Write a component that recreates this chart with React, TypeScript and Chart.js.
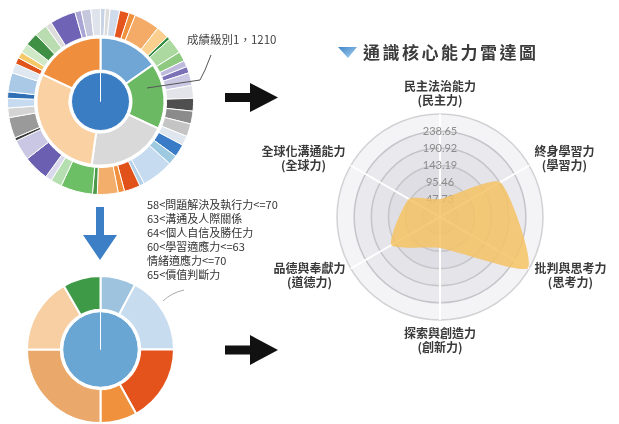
import React, { useEffect, useRef } from 'react';
import { Chart, registerables } from 'chart.js';

Chart.register(...registerables);

const FONT = '"Noto Sans CJK TC", "Noto Sans CJK SC", sans-serif';

// ---------- top sunburst (1210 students) ----------
const topCenterValues = [1210];
const topMiddleValues = [55, 60, 73, 107, 65];
const topOuterValues = [
  3, 3, 6, 6, 4, 16, 8, 2, 10, 6,
  4, 4, 8, 8, 8, 8, 8, 6, 8, 6,
  20, 3, 10, 4, 13, 3, 20, 7, 4, 16,
  13, 2, 13, 6, 6, 4, 12, 6, 4, 4,
  6, 8, 8, 4, 16, 4, 6, 6,
];

// ---------- bottom sunburst ----------
const bottomCenterValues = [1];
const bottomRingValues = [28, 62, 61, 29, 90, 60, 30];

// ---------- radar ----------
const radarAxes = [
  ['民主法治能力', '(民主力)'],
  ['終身學習力', '(學習力)'],
  ['批判與思考力', '(思考力)'],
  ['探索與創造力', '(創新力)'],
  ['品德與奉獻力', '(道德力)'],
  ['全球化溝通能力', '(全球力)'],
];
const radarValues = [50, 193, 283, 86, 156, 100];
const radarMax = 286.38;
const radarTickCount = 7;

// ---------- texts ----------
const topSunburstLabel = '成績級別1，1210';
const levelRules = [
  '58<問題解決及執行力<=70',
  '63<溝通及人際關係',
  '64<個人自信及勝任力',
  '60<學習適應力<=63',
  '情緒適應力<=70',
  '65<價值判斷力',
];
const radarTitle = '通識核心能力雷達圖';

// ---------- palettes ----------
const topCenterColors = ['#3a7dc2'];
const topMiddleColors = ['#6fa6d6', '#6cb964', '#d9d9d9', '#fad1a2', '#ef8e3c'];
const topOuterColors = [
  '#c8d3e6', '#dcdcdc', '#cfdbea', '#e4561d', '#f0913d', '#f5ab68', '#fbcf8e', '#2f8c3f', '#abd9a0', '#8dc97f',
  '#bdbadc', '#7b71b6', '#c9c7e2', '#e2e4ea', '#4f4f4f', '#8b8b8b', '#c4c4c4', '#dfe6ee', '#3a7bc8', '#9ecae1',
  '#c6dbef', '#b4cfe8', '#e1521a', '#f0903c', '#f4ae6b', '#4a9a4a', '#6cbf64', '#b5dfb0', '#d9d8ec', '#6a5fb0',
  '#c9c7e3', '#3c3c3c', '#9a9a9a', '#d4d4d4', '#c6dbef', '#2f6fb5', '#a9c9e6', '#dfe7f0', '#e0541c', '#f5c96a',
  '#cfe8c6', '#3f8f45', '#b9ddb0', '#dcdcdc', '#6f63b5', '#a9a5d4', '#c5c7dc', '#dfe3ec',
];
const bottomCenterColors = ['#6aa6d3'];
const bottomRingColors = ['#9ec3df', '#c7dcee', '#e4531c', '#f0913d', '#eaa86a', '#f7cfa2', '#3f9a48'];
const radarBandColors = ['#f4f4f6', '#eaeaee', '#e4e4e9', '#dedee4', '#dadae0', '#d6d6dc'];

function spacer(weight: number) {
  return { data: [1], backgroundColor: ['rgba(0,0,0,0)'], borderWidth: 0, weight };
}

const baseDoughnutOptions: any = {
  responsive: false,
  animation: false,
  devicePixelRatio: 1,
  cutout: 0,
  events: [],
  plugins: { legend: { display: false }, tooltip: { enabled: false } },
};

const topSunburstConfig: any = {
  type: 'doughnut',
  data: {
    datasets: [
      { data: topOuterValues, backgroundColor: topOuterColors, borderColor: '#ffffff', borderWidth: 1, weight: 27 },
      spacer(2),
      { data: topMiddleValues, backgroundColor: topMiddleColors, borderColor: '#ffffff', borderWidth: 2, weight: 33 },
      spacer(2),
      { data: topCenterValues, backgroundColor: topCenterColors, borderColor: '#ffffff', borderWidth: 1, weight: 29 },
    ],
  },
  options: baseDoughnutOptions,
};

const bottomSunburstConfig: any = {
  type: 'doughnut',
  data: {
    datasets: [
      { data: bottomRingValues, backgroundColor: bottomRingColors, borderColor: '#ffffff', borderWidth: 2, weight: 34 },
      spacer(2),
      { data: bottomCenterValues, backgroundColor: bottomCenterColors, borderColor: '#ffffff', borderWidth: 1, weight: 38 },
    ],
  },
  options: baseDoughnutOptions,
};

const radarBandsPlugin = {
  id: 'radarBands',
  beforeDraw(chart: any) {
    const s = chart.scales.r;
    const ctx = chart.ctx;
    ctx.save();
    const n = s.ticks.length;
    for (let i = n - 1; i >= 1; i--) {
      const r = s.getDistanceFromCenterForValue(s.ticks[i].value);
      ctx.beginPath();
      ctx.arc(s.xCenter, s.yCenter, r, 0, Math.PI * 2);
      ctx.fillStyle = radarBandColors[Math.min(n - 1 - i, radarBandColors.length - 1)];
      ctx.fill();
    }
    ctx.restore();
  },
};

const radarLabelPlugin = {
  id: 'radarLabels',
  afterDraw(chart: any) {
    const s = chart.scales.r;
    const ctx = chart.ctx;
    ctx.save();
    ctx.font = `bold 12px ${FONT}`;
    ctx.fillStyle = '#3a3a3a';
    ctx.textAlign = 'center';
    ctx.textBaseline = 'middle';
    const lh = 14.5;
    radarAxes.forEach((lines, i) => {
      const p = s.getPointPosition(i, s.drawingArea + 6);
      const w = Math.max(...lines.map((l) => ctx.measureText(l).width));
      const cx = Math.cos(p.angle);
      const sy = Math.sin(p.angle);
      let x = p.x;
      let yCenter = p.y;
      if (Math.abs(cx) < 0.1) {
        yCenter = sy < 0 ? p.y - (lines.length * lh) / 2 : p.y + (lines.length * lh) / 2;
      } else {
        x = p.x + Math.sign(cx) * (w / 2);
        yCenter = p.y + (sy < 0 ? -4 : 4);
      }
      lines.forEach((l, k) => {
        ctx.fillText(l, x, yCenter + (k - (lines.length - 1) / 2) * lh);
      });
    });
    ctx.restore();
  },
};

const radarConfig: any = {
  type: 'radar',
  data: {
    labels: radarAxes,
    datasets: [
      {
        data: radarValues,
        backgroundColor: 'rgba(245,194,100,0.86)',
        borderWidth: 0,
        pointRadius: 0,
        tension: 0.2,
        fill: true,
      },
    ],
  },
  options: {
    responsive: false,
    animation: false,
    devicePixelRatio: 1,
    events: [],
    layout: { padding: { left: 81, right: 70, top: 48, bottom: 64 } },
    plugins: { legend: { display: false }, tooltip: { enabled: false } },
    scales: {
      r: {
        min: 0,
        max: radarMax,
        angleLines: { color: '#ffffff', lineWidth: 2 },
        grid: {
          circular: true,
          color: (c: any) => (c.index === radarTickCount - 1 ? '#d2d2d4' : '#c4c4c9'),
          lineWidth: 1.5,
        },
        pointLabels: { display: false },
        ticks: {
          count: radarTickCount,
          showLabelBackdrop: false,
          backdropPadding: 0,
          color: '#8c8c8c',
          font: { size: 11, family: 'Lato' },
          callback: (v: any) => (v > 0 && v < radarMax - 0.01 ? Number(v).toFixed(2) : ''),
        },
      },
    },
  },
  plugins: [radarBandsPlugin, radarLabelPlugin],
};

function ChartCanvas({ config, left, top, width, height }: any) {
  const ref = useRef<HTMLCanvasElement>(null);
  useEffect(() => {
    const chart = new Chart(ref.current as HTMLCanvasElement, config);
    return () => chart.destroy();
  }, [config]);
  return (
    <canvas
      ref={ref}
      width={width}
      height={height}
      style={{ position: 'absolute', left, top, width, height }}
    />
  );
}

export default function App() {
  return (
    <div
      style={{
        position: 'absolute',
        left: 0,
        top: 0,
        width: 619,
        height: 424,
        overflow: 'hidden',
        background: '#ffffff',
        fontFamily: FONT,
      }}
    >
      <ChartCanvas config={topSunburstConfig} left={7} top={8} width={187} height={187} />
      <ChartCanvas config={bottomSunburstConfig} left={26} top={275} width={149} height={149} />
      <ChartCanvas config={radarConfig} left={250} top={60} width={369} height={330} />

      <svg
        width={619}
        height={424}
        style={{ position: 'absolute', left: 0, top: 0, pointerEvents: 'none' }}
      >
        <defs>
          <linearGradient id="ico" x1="0" y1="0" x2="1" y2="1">
            <stop offset="0" stopColor="#3f86c9" />
            <stop offset="1" stopColor="#a9d3f0" />
          </linearGradient>
        </defs>
        <polyline points="147,88 200,80 205,70 211,55" fill="none" stroke="#555" strokeWidth={1} />
        <path d="M163 301 Q171 293 184 290" fill="none" stroke="#aaa" strokeWidth={1} />
        <polygon points="225,93 250,93 250,83 278,97.5 250,112 250,102 225,102" fill="#111" />
        <polygon points="225,345.5 250,345.5 250,335 278,350 250,365 250,354.5 225,354.5" fill="#111" />
        <polygon points="96,207 104,207 104,235 117,235 100,260 83,235 96,235" fill="#3d7fc6" />
        <polygon points="338,47 357,47 348,58" fill="url(#ico)" />
      </svg>

      <div
        style={{
          position: 'absolute',
          left: 187,
          top: 31,
          fontSize: 11.5,
          lineHeight: '16px',
          color: '#444',
          whiteSpace: 'nowrap',
        }}
      >
        {topSunburstLabel}
      </div>

      <div
        style={{
          position: 'absolute',
          left: 147,
          top: 197,
          fontSize: 11,
          lineHeight: '14px',
          color: '#333',
          whiteSpace: 'nowrap',
        }}
      >
        {levelRules.map((t, i) => (
          <div key={i}>{t}</div>
        ))}
      </div>

      <div
        style={{
          position: 'absolute',
          left: 363,
          top: 41,
          fontSize: 17,
          fontWeight: 'bold',
          lineHeight: '22px',
          letterSpacing: 2.5,
          color: '#3c3c3c',
          whiteSpace: 'nowrap',
        }}
      >
        {radarTitle}
      </div>
    </div>
  );
}
